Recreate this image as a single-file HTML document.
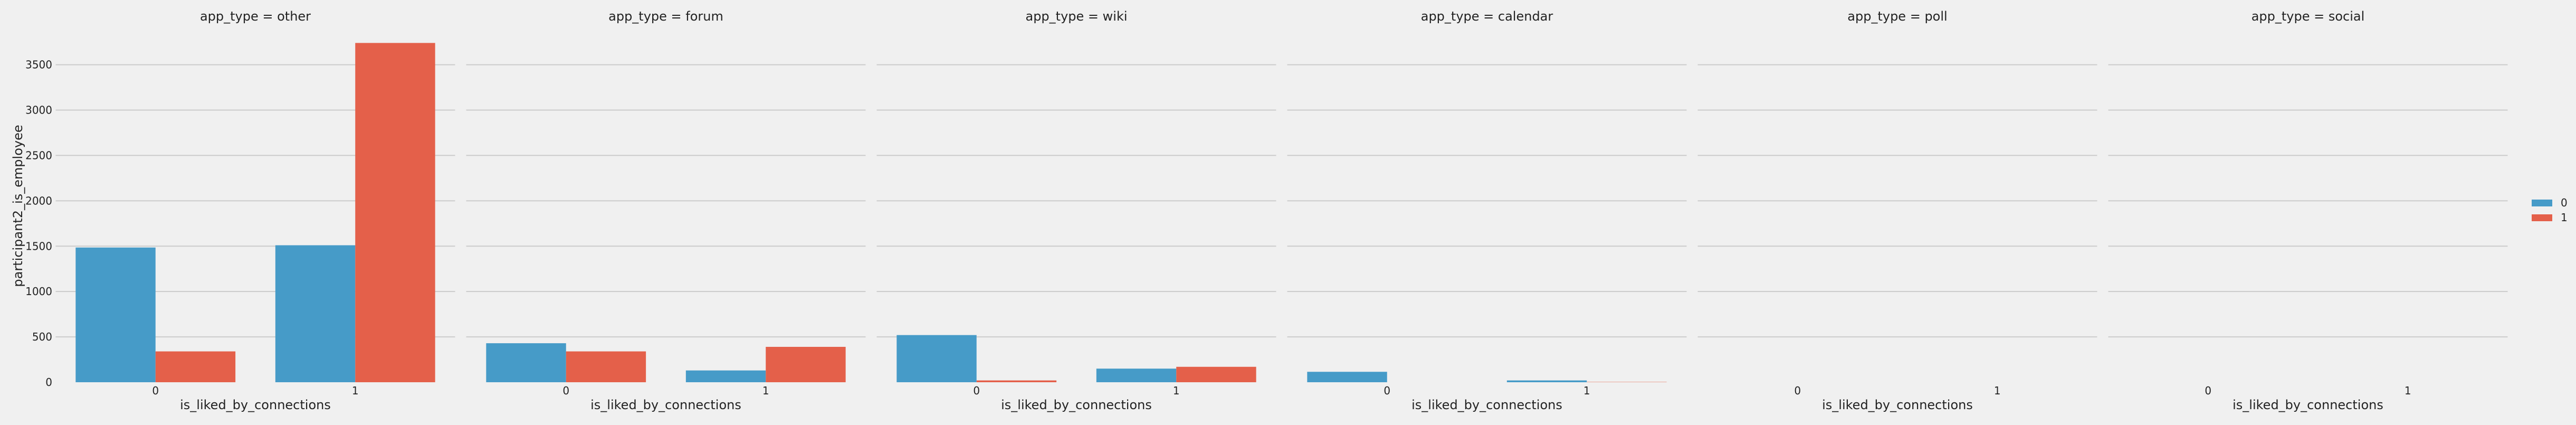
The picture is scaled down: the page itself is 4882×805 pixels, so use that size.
<!DOCTYPE html>
<html><head><meta charset="utf-8"><style>
html,body{margin:0;padding:0;background:#f0f0f0;}
svg text{font-family:"DejaVu Sans","Liberation Sans",sans-serif;fill:#222;}
</style></head><body>
<svg id="chart" width="4882" height="800" xmlns="http://www.w3.org/2000/svg">
<rect width="4882" height="800" fill="#f0f0f0"/>
</svg>
<script>
const panels = ["other","forum","wiki","calendar","poll","social"];
const categories = ["0","1"];
const hues = ["0","1"];
const series0 = [[1485,1510],[430,130],[520,150],[115,20],[0,0],[0,0]];
const series1 = [[340,3740],[340,390],[20,170],[0,3],[0,0],[0,0]];
const yTicks = [0,500,1000,1500,2000,2500,3000,3500];

const svg = document.getElementById('chart');
const NS = "http://www.w3.org/2000/svg";
const colors = ["#469bc8","#e4604a"];
const panelLeft0 = 105.5, panelW = 757, panelStep = 778;
const y0 = 724, yScale = 601.4/3500;
function yPos(v){ return y0 - v*yScale; }
function xPos(p, c){ return panelLeft0 + p*panelStep + (c+0.5)/categories.length*panelW; }
function mk(tag, attrs, parent){
  const el = document.createElementNS(NS, tag);
  for (const k in attrs) el.setAttribute(k, attrs[k]);
  (parent||svg).appendChild(el);
  return el;
}
const catW = panelW/categories.length;
const barW = catW*0.4;
panels.forEach((name, p) => {
  const g = mk('g', {});
  
  
  const left = panelLeft0 + p*panelStep;
  yTicks.forEach(t => {
    if (t === 0) return;
    const l = mk('line', {x1:left, x2:left+panelW, y1:yPos(t), y2:yPos(t), stroke:'#cbcbcb', 'stroke-width':2}, g);
    
    
  });
  categories.forEach((c, ci) => {
    const cx = xPos(p, ci);
    [series0, series1].forEach((s, hi) => {
      const v = s[p][ci];
      const r = mk('rect', {x: cx - barW + hi*barW, y: yPos(v), width: barW, height: Math.max(0, y0 - yPos(v)), fill: colors[hi]}, g);
      
      
    });
    const tl = mk('text', {x: cx, y: 747, 'font-size': 20, 'text-anchor': 'middle'}, g);
    tl.textContent = c;
    
    
  });
  const title = mk('text', {x: left + panelW/2, y: 39, 'font-size': 24, 'text-anchor': 'middle'}, g);
  title.textContent = 'app_type = ' + name;
  
  
  const xl = mk('text', {x: left + panelW/2, y: 775, 'font-size': 24, 'text-anchor': 'middle'}, g);
  xl.textContent = 'is_liked_by_connections';
  
  
});
yTicks.forEach(t => {
  const tl = mk('text', {x: 99, y: yPos(t)+7, 'font-size': 20, 'text-anchor': 'end'});
  tl.textContent = t;
  
  
});
const yl = mk('text', {x: 0, y: 0, 'font-size': 24, 'text-anchor': 'middle', transform: 'translate(42,390) rotate(-90)'});
yl.textContent = 'participant2_is_employee';


hues.forEach((h, i) => {
  const g = mk('g', {});
  
  
  mk('rect', {x: 4798, y: 378 + i*28, width: 39, height: 13, fill: colors[i]}, g);
  const t = mk('text', {x: 4853, y: 391 + i*28, 'font-size': 20}, g);
  t.textContent = h;
});
</script>
</body></html>
